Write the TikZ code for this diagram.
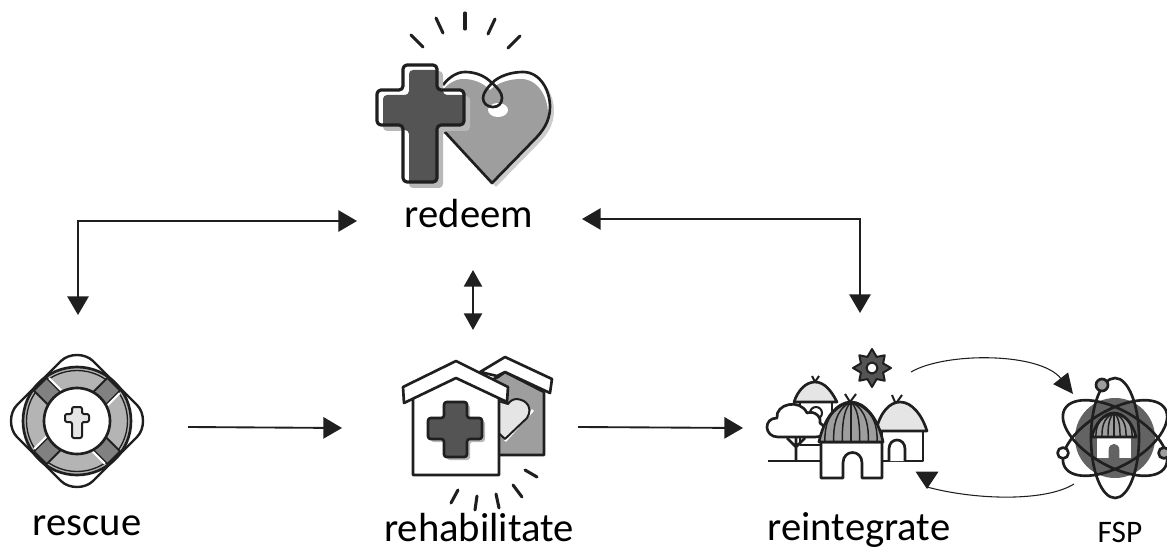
\documentclass[tikz,border=0pt]{standalone}
\usepackage{fontspec}
\setmainfont{Carlito}
\usetikzlibrary{arrows.meta,calc}
\definecolor{gdark}{gray}{0.33}
\definecolor{gmid}{gray}{0.62}
\definecolor{gshade}{gray}{0.72}
\definecolor{glight}{gray}{0.90}
\definecolor{ink}{gray}{0.12}
\tikzset{
  lab/.style={anchor=base,inner sep=0pt,text=black,font=\fontsize{30.5}{36}\selectfont},
  smalllab/.style={anchor=base,inner sep=0pt,text=black,font=\fontsize{23.5}{28}\selectfont},
  conn/.style={draw=ink,line width=1.4pt},
  head/.style={-{Triangle[length=14pt,width=16pt]}},
  twohead/.style={{Triangle[length=14pt,width=16pt]}-{Triangle[length=14pt,width=16pt]}},
  smallheads/.style={{Triangle[length=12.5pt,width=13.5pt]}-{Triangle[length=12.5pt,width=13.5pt]},line width=1.9pt},
  thincurve/.style={draw=ink,line width=0.8pt},
  icon/.style={draw=ink,line width=2pt,line join=round},
  iconthin/.style={draw=ink,line width=1.5pt,line join=round},
  ray/.style={draw=ink,line width=2.3pt,line cap=round}
}
\newcommand\crossshape{(403,65) -- (437,65) -- (437,90) -- (464,90) -- (464,125) -- (437,125) -- (437,182) -- (403,182) -- (403,125) -- (377,125) -- (377,90) -- (403,90) -- cycle}
\newcommand\heartfillshape{(443,85) .. controls (450,76) and (458,72) .. (465,72) .. controls (476,72) and (485,76) .. (492,83) .. controls (499,76) and (511,72) .. (523,72) .. controls (540,72) and (550,90) .. (550,107) .. controls (550,122) and (542,132) .. (534,140) -- (492,183) -- (443,130) -- cycle}
\newcommand\smallcross{(444,402) -- (467,402) -- (467,418) -- (482,418) -- (482,439) -- (467,439) -- (467,457) -- (444,457) -- (444,439) -- (428,439) -- (428,418) -- (444,418) -- cycle}
\newcommand\thatch{%
  \path[fill=gmid] (-33,0) .. controls (-28,-24) and (-14,-40) .. (0,-40) .. controls (14,-40) and (28,-24) .. (33,0) -- cycle;
  \foreach \d in {-27,-18,-9,0,9,18,27}{
    \draw[draw=ink,line width=1.1pt] (0,-40) .. controls ({\d*0.95},-32) and (\d,-14) .. (\d,0);
  }
  \draw[icon] (-33,0) .. controls (-28,-24) and (-14,-40) .. (0,-40) .. controls (14,-40) and (28,-24) .. (33,0) -- cycle;
}
\begin{document}
\begin{tikzpicture}[x=0.75pt,y=-0.75pt]
\useasboundingbox (0,0) rectangle (1167,549);

% ---------- redeem icon
\foreach \xa/\ya/\xb/\yb in {411/35/423/47,436/18/443/33,465/13/465/29,495/19/488/34,520/36/508/48}{
  \draw[ray] (\xa,\ya) -- (\xb,\yb);
}
\fill[gshade!70!white,shift={(4,4)}] \heartfillshape;
\begin{scope}
  \clip \heartfillshape;
  \fill[white] (430,60) rectangle (560,190);
  \fill[gmid,shift={(-2,7)}] \heartfillshape;
  \fill[white] (498,110) ellipse (10 and 7);
\end{scope}
\draw[icon] (443,85) .. controls (450,76) and (458,72) .. (465,72)
  .. controls (476,72) and (485,76) .. (492,83)
  .. controls (498,88) and (502,93) .. (502,98)
  .. controls (502,104) and (498,107) .. (493,107)
  .. controls (487,107) and (483,103) .. (483,98)
  .. controls (483,93) and (488,87) .. (492,83)
  .. controls (499,76) and (511,72) .. (523,72)
  .. controls (540,72) and (550,90) .. (550,107)
  .. controls (550,122) and (542,132) .. (534,140) -- (492,183) -- (443,130);
\fill[gshade,rounded corners=3pt,shift={(6,6)}] \crossshape;
\begin{scope}
  \clip[rounded corners=3pt] \crossshape;
  \fill[white] (370,60) rectangle (470,190);
  \fill[gdark,rounded corners=3pt,shift={(6,5)}] \crossshape;
\end{scope}
\draw[icon,line width=2.4pt,rounded corners=3pt] \crossshape;
\node[lab] (redeem) at (469,227) {redeem};

% ---------- rescue icon
\begin{scope}[shift={(77,421)}]
  \foreach \r in {0,90,180,270}{
    \begin{scope}[rotate=\r]
      \draw[iconthin,line width=1.8pt] (-38,-38) -- (-16,-60) .. controls (-8,-68) and (8,-68) .. (16,-60) -- (38,-38);
    \end{scope}
  }
  \draw[icon,fill=gshade!85!gmid] (0,0) circle (54);
  \draw[draw=ink,line width=1pt] (0,0) circle (50.5);
  \foreach \r in {45,135,225,315}{
    \begin{scope}[rotate=\r]
      \draw[iconthin,fill=gmid!60!gdark] (-9,-52) rectangle (9,-31);
      \draw[white,line width=1.6pt] (10.5,-50) -- (10.5,-33);
    \end{scope}
  }
  \draw[icon,fill=white] (0,0) circle (33);
  \draw[iconthin,fill=glight,rounded corners=1.5pt] (-5,-14) -- (5,-14) -- (5,-7) -- (12,-7) -- (12,1) -- (5,1) -- (5,17) -- (-5,17) -- (-5,1) -- (-12,1) -- (-12,-7) -- (-5,-7) -- cycle;
\end{scope}
\node[lab] (rescue) at (87,535) {rescue};

% ---------- rehabilitate icon
\draw[icon,fill=gmid] (470,390) -- (498,377) -- (505,372) -- (544,392) -- (544,455) -- (470,455) -- cycle;
\draw[icon,fill=white] (480,372) -- (505,357) -- (552,379) -- (550,393) -- (505,372) -- (497,376) -- cycle;
\draw[white,line width=2pt] (505,441) -- (533,410);
\draw[iconthin,fill=glight] (517,399) .. controls (527,400) and (533,408) .. (527,418) -- (505,439) -- (490,425) -- (495,400) -- (508,404) .. controls (510,401) and (513,399) .. (517,399) -- cycle;
\draw[icon,fill=white] (413,398) -- (413,475) -- (499,475) -- (499,398) -- (456,376) -- cycle;
\draw[icon,fill=white] (456,361) -- (508,387) -- (507,402) -- (456,378) -- (404,403) -- (403,387) -- cycle;
\fill[gshade,rounded corners=2pt,shift={(3,3)}] \smallcross;
\draw[icon,fill=gdark,rounded corners=2pt] \smallcross;
\foreach \xa/\ya/\xb/\yb in {458/490/451/503,477/496/475/510,496/494/499/508,513/485/522/497,525/470/537/477}{
  \draw[ray] (\xa,\ya) -- (\xb,\yb);
}
\node[lab] (rehabilitate) at (479,541) {rehabilitate};

% ---------- reintegrate icon
\draw[draw=ink,line width=1.5pt,fill=gdark,line join=round,shift={(872,368)}]
  (90:19) -- (67.5:12) -- (45:18) -- (22.5:12) -- (0:19) -- (-22.5:12) -- (-45:18) -- (-67.5:12) -- (-90:19) -- (-112.5:12) -- (-135:18) -- (-157.5:12) -- (180:19) -- (157.5:12) -- (135:18) -- (112.5:12) -- cycle;
\draw[draw=ink,line width=1.5pt,fill=white] (872,368) circle (5.5);
% back hut
\draw[icon,fill=white] (800,402) rectangle (832,445);
\draw[icon,fill=glight] (794,402) .. controls (798,390) and (806,382) .. (815,382) .. controls (825,382) and (832,392) .. (837,402) -- cycle;
\draw[iconthin] (815,382) -- (812,376) (815,382) -- (819,376);
\draw[iconthin,fill=white] (816,413) circle (6);
% right hut
\draw[icon,fill=white] (882,431) rectangle (923,461);
\draw[icon,fill=white] (889,461) -- (889,449) .. controls (889,437) and (905,437) .. (905,449) -- (905,461);
\draw[icon,fill=glight] (876,431) .. controls (880,412) and (890,402) .. (900,402) .. controls (912,402) and (922,415) .. (927,431) -- cycle;
\draw[iconthin] (895,402) -- (892,395) (897,402) -- (902,395);
% tree
\draw[icon] (768,461) -- (824,461);
\draw[icon] (796,437) -- (796,461) (787,438) -- (796,447) -- (805,438);
\draw[icon,fill=white] (778,437) .. controls (764,437) and (763,418) .. (777,418)
  .. controls (775,404) and (800,398) .. (807,413)
  .. controls (815,410) and (822,418) .. (820,423)
  .. controls (828,428) and (826,437) .. (815,437) -- cycle;
% front hut
\draw[icon,fill=white] (821,442) -- (821,478) -- (843,478) -- (843,463) .. controls (843,449) and (862,449) .. (862,463) -- (862,478) -- (882,478) -- (882,442) -- cycle;
\begin{scope}[shift={(851,442)},xscale=0.97]
  \thatch
\end{scope}
\draw[iconthin] (850,402) -- (845,394) (850,402) -- (856,394);
\node[lab] (reintegrate) at (859,540) {reintegrate};

% ---------- FSP icon
\fill[gdark!80!gmid] (1115,438) circle (40);
\draw[icon] (1115,438) ellipse (24 and 60);
\draw[icon,rotate around={30:(1115,438)}] (1115,438) ellipse (58 and 28);
\draw[icon,rotate around={-30:(1115,438)}] (1115,438) ellipse (58 and 28);
\draw[iconthin,line width=2pt,fill=gmid] (1102,385) circle (6);
\draw[iconthin,line width=2pt,fill=white] (1063,453) circle (5.5);
\draw[iconthin,line width=2pt,fill=gmid] (1164,453) circle (5.5);
\begin{scope}[shift={(1114,437)},xscale=0.67,yscale=0.6]
  \fill[white] (-25,0) rectangle (25,35);
  \fill[gdark!80!gmid] (-8,35) -- (-8,22) .. controls (-8,8) and (8,8) .. (8,22) -- (8,35) -- cycle;
  \thatch
\end{scope}
\node[smalllab] (fsp) at (1120,542) {FSP};

% ---------- connector end points
\coordinate (rescueTop) at (78,315);
\coordinate (redeemLeft) at (357,221);
\coordinate (reintTop) at (860,313);
\coordinate (redeemRight) at (582,219);
\coordinate (redeemBottom) at (473,270);
\coordinate (rehabTop) at (473,330);
\coordinate (rescueRight) at (188,427);
\coordinate (rehabLeft) at (342,428);
\coordinate (rehabRight) at (578,427);
\coordinate (reintLeft) at (743,428);
\coordinate (reintOut) at (911,372);
\coordinate (fspIn) at (1073,394);
\coordinate (fspOut) at (1074,484);
\coordinate (reintIn) at (927,489);

% ---------- connectors
\draw[conn,twohead] (rescueTop) |- (redeemLeft);
\draw[conn,twohead] (reintTop) |- (redeemRight);
\draw[conn,smallheads] (redeemBottom) -- (rehabTop);
\draw[conn,head] (rescueRight) -- (rehabLeft);
\draw[conn,head] (rehabRight) -- (reintLeft);
\draw[thincurve,-{Triangle[length=15pt,width=14pt]}] (reintOut) .. controls (945,352) and (1040,352) .. (fspIn);
\draw[thincurve] (fspOut) .. controls (1045,502) and (975,500) .. (927,487);
\draw[thincurve,-{Triangle[length=13pt,width=17pt]}] ($(reintIn)+(0,-17)$) -- (reintIn);
\end{tikzpicture}
\end{document}
